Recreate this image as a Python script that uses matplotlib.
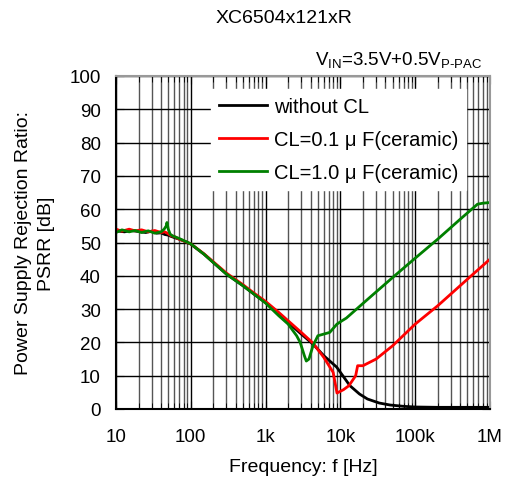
import matplotlib.pyplot as plt
from matplotlib.ticker import FixedLocator, LogLocator, NullFormatter

plt.rcParams['font.family'] = ['Liberation Sans', 'Noto Sans CJK JP', 'DejaVu Sans']
plt.rcParams['mathtext.fontset'] = 'custom'
plt.rcParams['mathtext.rm'] = 'Liberation Sans'

# Frequency [Hz] and PSRR [dB]
f_no = [10, 13, 16, 20, 25, 30, 35, 40, 45, 50, 55, 60, 70, 80, 100, 150, 200, 300, 500, 700,
        1000, 1500, 2000, 3000, 4300, 6000, 8900, 13400, 18000, 23000, 33000, 46000, 70000,
        100000, 200000, 500000, 1000000]
psrr_no = [53.5, 53.2, 53.6, 53.3, 53.0, 53.4, 52.8, 52.9, 52.4, 52.2, 51.8, 51.5, 51.0, 50.5, 49.5,
           46.5, 44.0, 40.5, 37.0, 34.5, 32.0, 28.5, 26.0, 22.5, 19.5, 16.0, 12.6, 7.0, 4.5, 3.0,
           1.8, 1.2, 0.8, 0.6, 0.5, 0.5, 0.5]

f_01 = [10, 12, 15, 18, 22, 27, 33, 40, 45, 50, 55, 60, 70, 80, 100, 150, 200, 300, 500, 700,
        1000, 1500, 2000, 3000, 4300, 6000, 8000, 9000, 11000, 13000, 16000, 17000, 20000,
        30000, 50000, 100000, 200000, 500000, 1000000]
psrr_01 = [54.0, 53.4, 54.0, 53.5, 53.8, 53.2, 53.6, 53.0, 53.2, 52.6, 52.0, 51.8, 51.0, 50.5, 49.6,
           46.6, 44.2, 40.8, 37.3, 34.8, 32.3, 29.0, 26.5, 23.0, 19.8, 15.5, 11.0, 4.8, 5.8, 7.0,
           10.0, 13.0, 13.0, 15.0, 19.0, 25.5, 31.0, 39.0, 45.0]

f_10 = [10, 12, 15, 18, 22, 27, 33, 40, 44, 47, 48, 50, 53, 57, 60, 70, 80, 100, 150, 200, 300,
        500, 700, 1000, 1500, 2000, 2600, 2900, 3300, 3500, 3800, 4300, 5000, 6000, 7200, 9000,
        10500, 12000, 25000, 50000, 100000, 200000, 400000, 680000, 800000, 1000000]
psrr_10 = [53.0, 53.8, 53.2, 53.6, 53.0, 53.5, 52.8, 53.2, 54.0, 55.0, 56.0, 54.0, 52.5, 52.0, 51.8,
           51.2, 50.6, 49.6, 46.5, 44.0, 40.5, 37.0, 34.5, 31.8, 28.0, 25.5, 22.0, 20.0, 16.0, 14.4,
           15.0, 19.0, 22.0, 22.5, 23.0, 25.5, 26.5, 27.3, 33.6, 39.5, 45.3, 51.0, 57.0, 61.5, 61.8,
           62.0]

fig = plt.figure(figsize=(5.08, 4.81), dpi=100)
ax = fig.add_axes([116 / 508, 71 / 481, 374 / 508, 333 / 481])

ax.semilogx(f_no, psrr_no, color='black', lw=2, label='without CL')
ax.semilogx(f_01, psrr_01, color='red', lw=2, label='CL=0.1 \u03bc F(ceramic)')
ax.semilogx(f_10, psrr_10, color='green', lw=2, label='CL=1.0 \u03bc F(ceramic)')

ax.set_xlim(10, 1e6)
ax.set_ylim(0, 100)
ax.set_yticks(range(0, 101, 10))
ax.xaxis.set_major_locator(FixedLocator([10, 100, 1e3, 1e4, 1e5, 1e6]))
ax.xaxis.set_minor_locator(LogLocator(base=10, subs=range(2, 10), numticks=20))
ax.xaxis.set_minor_formatter(NullFormatter())
ax.set_xticklabels(['10', '100', '1k', '10k', '100k', '1M'])

ax.grid(which='major', color='black', lw=1)
ax.grid(which='minor', axis='x', color='#555555', lw=1)
ax.tick_params(which='both', direction='in', top=True, right=True, labelsize=13.5)
ax.tick_params(which='major', length=6)
ax.tick_params(which='minor', length=4)
ax.tick_params(axis='x', pad=14)
ax.tick_params(axis='y', pad=11)
ax.spines['left'].set_color('black')
ax.spines['bottom'].set_color('black')
ax.spines['top'].set_color('#999999')
ax.spines['right'].set_color('#999999')
for s in ax.spines.values():
    s.set_linewidth(1.5)

ax.set_xlabel('Frequency: f [Hz]', fontsize=14, labelpad=9)
ax.set_ylabel('Power Supply Rejection Ratio:\nPSRR [dB]', fontsize=14, labelpad=10,
              linespacing=1.5)

leg = ax.legend(loc='upper left', bbox_to_anchor=(0.255, 0.961), frameon=True, fancybox=False,
                edgecolor='white', framealpha=1, fontsize=14.5, handlelength=2.35,
                handletextpad=0.35, borderpad=0.4, labelspacing=0.7, borderaxespad=0)

fig.text(0.559, 0.962, 'XC6504x121xR', ha='center', va='center', fontsize=14)
fig.text(0.95, 0.873, r'V$_{\mathregular{IN}}$=3.5V+0.5V$_{\mathregular{P\text{-}PAC}}$',
         ha='right', va='center', fontsize=13.5)

fig.savefig('out.png', dpi=100)
